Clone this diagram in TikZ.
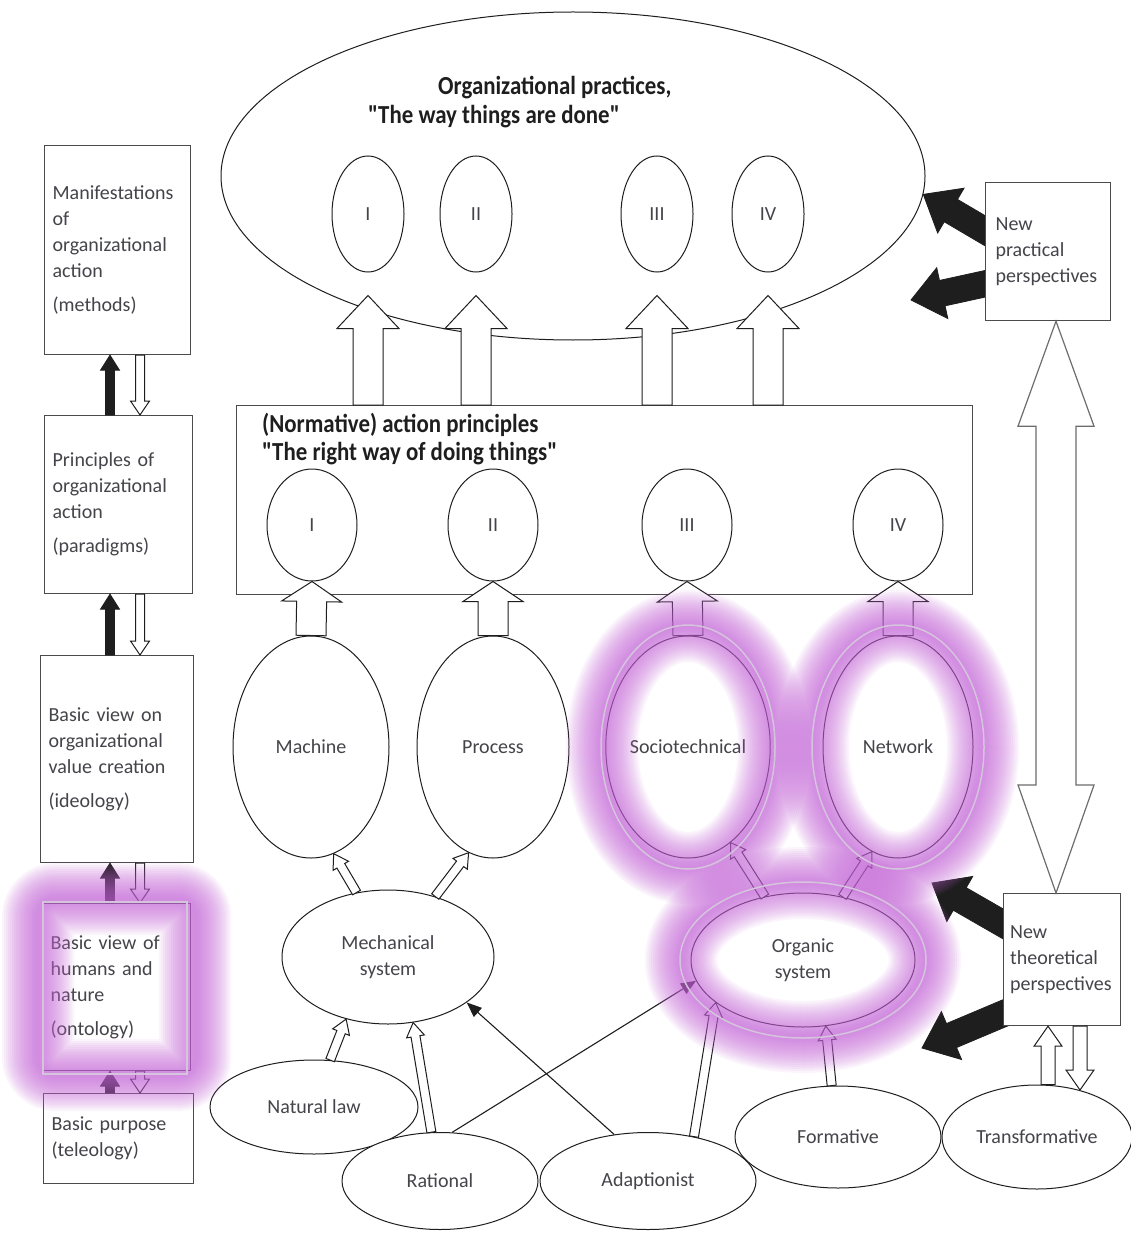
\documentclass[tikz,border=0pt]{standalone}
\usepackage{fontspec}
\setmainfont{Carlito}
\newfontfamily\headfont{Carlito}[FakeStretch=0.88]
\usetikzlibrary{shapes.geometric,calc,arrows.meta}

\definecolor{ink}{RGB}{30,30,30}
\definecolor{txt}{RGB}{68,68,74}
\definecolor{glowc}{RGB}{198,100,218}
\definecolor{halo}{RGB}{212,196,220}

\pgfdeclarelayer{bg}
\pgfsetlayers{bg,main}

\tikzset{
  lbl/.style={font=\fontsize{20}{26}\selectfont, text=txt},
  headtxt/.style={font=\headfont\bfseries\fontsize{26}{29}\selectfont, text=ink, inner sep=0pt},
  sidebox/.style={draw=ink!80, line width=1.2pt, rectangle, inner sep=0pt, fill=white,
                  lbl, align=left, anchor=north west},
  oval/.style={draw=ink, line width=1pt, ellipse, inner sep=0pt, lbl, align=center},
  whitearrow/.style={draw=ink, line width=1pt, fill=white, line join=miter},
  blackarrow/.style={draw=ink, fill=ink, line width=0.8pt, line join=miter},
  greyarrow/.style={draw=ink!65, line width=1.2pt, fill=white, line join=miter},
  linearrow/.style={draw=ink, line width=1.1pt, -{Triangle[length=15pt,width=12pt]}},
  glowline/.style={glowc, opacity=0.065},
}

% block arrow: style, from, to, shaft half width, head half width, head length
\newcommand{\blockarrow}[6]{%
  \coordinate (ba-h) at ($#3!#6!#2$);
  \path[#1] ($#2!#4!90:#3$) -- ($(ba-h)!#4!90:#3$) -- ($(ba-h)!#5!90:#3$) -- #3
    -- ($(ba-h)!#5!-90:#3$) -- ($(ba-h)!#4!-90:#3$) -- ($#2!#4!-90:#3$) -- cycle;}

\begin{document}
\begin{tikzpicture}[x=1pt,y=-1pt]
\useasboundingbox (0,0) rectangle (1131,1233);
\begin{pgfonlayer}{bg}
  \fill[white] (0,0) rectangle (1131,1233);
\end{pgfonlayer}

% ---- left column ----
\node[sidebox, minimum width=146pt, minimum height=209pt, text width=130pt] (b1) at (44,145)
  {Manifestations\\of\\organizational\\action\\[8pt](methods)};
\node[sidebox, minimum width=148pt, minimum height=178pt, text width=132pt] (b2) at (44,415)
  {Principles of\\organizational\\action\\[8pt](paradigms)};
\node[sidebox, minimum width=153pt, minimum height=207pt, text width=137pt] (b3) at (40,655)
  {Basic view on\\organizational\\value creation\\[8pt](ideology)};
\node[sidebox, minimum width=148pt, minimum height=167pt, text width=132pt] (b4) at (42,903)
  {Basic view of\\humans and\\nature\\[8pt](ontology)};
\node[sidebox, minimum width=150pt, minimum height=90pt, text width=134pt] (b5) at (43,1093)
  {Basic purpose\\(teleology)};

\foreach \u/\l in {b1/b2, b2/b3, b3/b4, b4/b5} {
  \coordinate (\u-bs) at (\l.north -| 110,0);
  \coordinate (\u-bt) at (\u.south -| 110,0);
  \blockarrow{blackarrow}{(\u-bs)}{(\u-bt)}{4.5pt}{9.5pt}{15pt}
  \coordinate (\u-ws) at (\u.south -| 140,0);
  \coordinate (\u-wt) at (\l.north -| 140,0);
  \blockarrow{whitearrow}{(\u-ws)}{(\u-wt)}{4.5pt}{9.5pt}{14pt}
}

% ---- organizational practices ----
\node[oval, minimum width=704pt, minimum height=328pt] (top) at (573,176) {};
\node[headtxt, anchor=base west] (ttl1) at (438,95) {Organizational practices,};
\node[headtxt, anchor=base west] (ttl2) at (368,124) {"The way things are done"};
\foreach \n/\x/\t in {tI/368/I, tII/476/II, tIII/657/III, tIV/768/IV}
  \node[oval, minimum width=72pt, minimum height=116pt] (\n) at (\x,214) {\t};

% ---- action principles ----
\node[draw=ink!80, line width=1.2pt, minimum width=736pt, minimum height=189pt,
      anchor=north west, inner sep=0pt] (act) at (236,405) {};
\node[headtxt, anchor=base west] (act1) at (262,432) {(Normative) action principles};
\node[headtxt, anchor=base west] (act2) at (262,460) {"The right way of doing things"};
\foreach \n/\x/\t in {cI/312/I, cII/493/II, cIII/687/III, cIV/898/IV}
  \node[oval, minimum width=90pt, minimum height=112pt] (\n) at (\x,525) {\t};

\foreach \n in {tI,tII,tIII,tIV} {
  \coordinate (\n-a) at (act.north -| \n);
  \coordinate (\n-b) at ($(\n.south)+(0,23)$);
  \blockarrow{whitearrow}{(\n-a)}{(\n-b)}{15pt}{31pt}{33pt}
}

% ---- views ----
\node[oval, minimum width=156pt, minimum height=222pt] (mach)  at (311,747) {Machine};
\node[oval, minimum width=152pt, minimum height=222pt] (proc)  at (493,747) {Process};
\node[oval, minimum width=152pt, minimum height=222pt] (socio) at (688,747) {Sociotechnical};
\node[oval, minimum width=150pt, minimum height=222pt] (net)   at (898,747) {Network};

\blockarrow{whitearrow}{(mach.north)}{(cI.south)}{15pt}{30pt}{20pt}
\blockarrow{whitearrow}{(proc.north)}{(cII.south)}{15pt}{30pt}{20pt}
\blockarrow{whitearrow}{(socio.north)}{(cIII.south)}{15pt}{30pt}{20pt}
\blockarrow{whitearrow}{(net.north)}{(cIV.south)}{15pt}{30pt}{20pt}

% ---- systems ----
\node[oval, minimum width=212pt, minimum height=134pt] (mech) at (388,957) {Mechanical\\system};
\node[oval, minimum width=224pt, minimum height=134pt] (org)  at (803,960) {Organic\\system};

\blockarrow{whitearrow}{(mech.116)}{(mach.282)}{4.5pt}{9pt}{14pt}
\blockarrow{whitearrow}{(mech.52)}{(proc.257)}{4.5pt}{9pt}{14pt}
\blockarrow{whitearrow}{(org.121)}{(socio.294)}{4.5pt}{9pt}{14pt}
\blockarrow{whitearrow}{(org.58)}{(net.256)}{4.5pt}{9pt}{14pt}

% ---- sources ----
\node[oval, fill=white, minimum width=208pt, minimum height=94pt]  (natlaw) at (314,1107) {Natural law};
\node[oval, fill=white, minimum width=196pt, minimum height=97pt]  (rat)    at (440,1181) {Rational};
\node[oval, fill=white, minimum width=216pt, minimum height=97pt]  (ada)    at (648,1181) {Adaptionist};
\node[oval, fill=white, minimum width=206pt, minimum height=102pt] (form)   at (838,1137) {Formative};
\node[oval, fill=white, minimum width=190pt, minimum height=104pt] (tr)     at (1037,1137) {Transformative};

\blockarrow{whitearrow}{(natlaw.71)}{(mech.236)}{4.5pt}{9pt}{14pt}
\blockarrow{whitearrow}{(rat.100)}{(mech.291)}{4.5pt}{9pt}{14pt}
\blockarrow{whitearrow}{(ada.44)}{(org.206)}{4.5pt}{9pt}{14pt}
\blockarrow{whitearrow}{(form.97)}{(org.289)}{4.5pt}{9pt}{14pt}

\draw[linearrow] (rat.76) -- (org.191);
\draw[linearrow] (ada.126) -- (mech.330);

% ---- new perspectives ----
\node[sidebox, minimum width=125pt, minimum height=138pt, text width=105pt] (npp) at (985,182)
  {New\\practical\\perspectives};
\node[sidebox, minimum width=117pt, minimum height=132pt, text width=104pt] (ntp) at (1003,893)
  {New\\theoretical\\perspectives};

% thick black arrows sit under the boxes they leave
\begin{pgfonlayer}{bg}
  \coordinate (k1) at ($(npp.west)+(10,-15)$);
  \blockarrow{blackarrow}{(k1)}{(top.357)}{13pt}{26pt}{32pt}
  \coordinate (k2) at ($(npp.west)+(10,30)$);
  \coordinate (k2t) at (911,300);
  \blockarrow{blackarrow}{(k2)}{(k2t)}{13pt}{26pt}{32pt}
  \coordinate (k3) at ($(ntp.west)+(10,-30)$);
  \coordinate (k3t) at (932,883);
  \blockarrow{blackarrow}{(k3)}{(k3t)}{13pt}{26pt}{32pt}
  \coordinate (k4) at ($(ntp.west)+(10,50)$);
  \coordinate (k4t) at (922,1048);
  \blockarrow{blackarrow}{(k4)}{(k4t)}{13pt}{26pt}{32pt}
\end{pgfonlayer}

% two-way arrow between the perspectives
\coordinate (vt) at (npp.south -| 1056,0);
\coordinate (vb) at (ntp.north -| 1056,0);
\path[greyarrow] (vt) -- ($(vt)+(38,105)$) -- ($(vt)+(20,105)$) -- ($(vb)+(20,-108)$)
  -- ($(vb)+(38,-108)$) -- (vb) -- ($(vb)+(-38,-108)$) -- ($(vb)+(-20,-108)$)
  -- ($(vt)+(-20,105)$) -- ($(vt)+(-38,105)$) -- cycle;

\coordinate (tu1) at (1048,0 |- tr.north);
\coordinate (tu2) at (1048,0 |- ntp.south);
\blockarrow{whitearrow}{(tu1)}{(tu2)}{7pt}{14pt}{20pt}
\coordinate (td1) at (1080,0 |- ntp.south);
\coordinate (td2) at (1080,1090);
\blockarrow{whitearrow}{(td1)}{(td2)}{7pt}{14pt}{20pt}

% ---- highlight glow ----
\foreach \w in {4,8,...,72} {
  \draw[glowline, line width=\w pt] (socio.center) ellipse [x radius=86pt, y radius=121pt];
  \draw[glowline, line width=\w pt] (net.center) ellipse [x radius=85pt, y radius=121pt];
  \draw[glowline, line width=\w pt] (org.center) ellipse [x radius=122pt, y radius=77pt];
  \draw[glowline, line width=\w pt, rounded corners=18pt]
    ($(b4.north west)+(-4,-4)$) rectangle ($(b4.south east)+(4,4)$);
}
\draw[halo, line width=1.5pt] (socio.center) ellipse [x radius=87pt, y radius=122pt];
\draw[halo, line width=1.5pt] (net.center) ellipse [x radius=86pt, y radius=122pt];
\draw[halo, line width=1.5pt] (org.center) ellipse [x radius=123pt, y radius=78pt];
\draw[halo, line width=1.5pt] ($(b4.north west)+(1,-1)$) rectangle ($(b4.south east)+(-4,3)$);
\end{tikzpicture}
\end{document}
